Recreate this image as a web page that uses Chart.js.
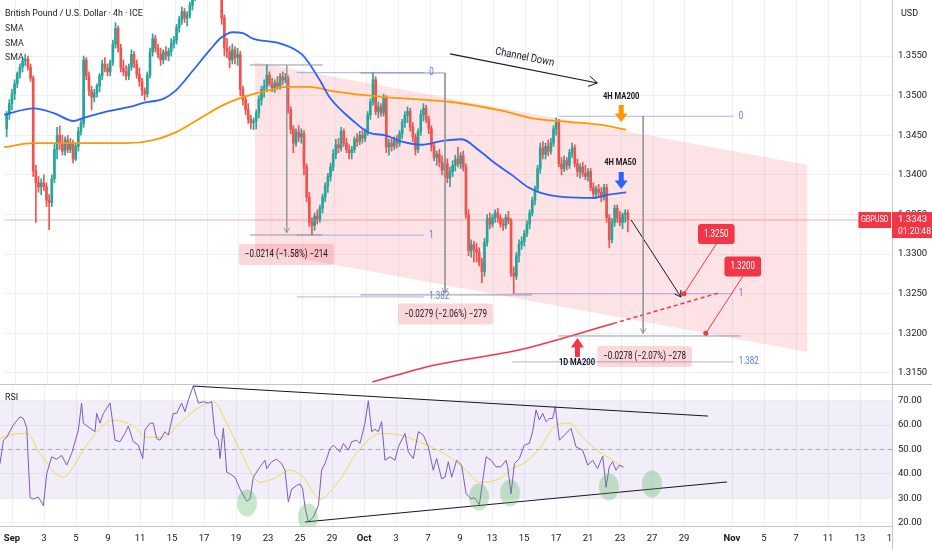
<!DOCTYPE html>
<html lang="en">
<head>
<meta charset="UTF-8">
<title>GBPUSD 4h - Channel Down</title>
<script src="https://cdn.jsdelivr.net/npm/chart.js"></script>
<style>
  body { margin: 0; background: #fff; }
  .wrap { position: relative; width: 932px; height: 550px; overflow: hidden; }
  .pane { position: absolute; left: 0; width: 932px; }
</style>
</head>
<body>
<div class="wrap">
  <div class="pane" style="top:0;height:384px"><canvas id="price"></canvas></div>
  <div class="pane" style="top:384px;height:166px"><canvas id="rsi"></canvas></div>
</div>
<script>
// ---- time axis (trading days, Sep 1 = 0, 6 candles of 4h per day) ----
const tickDays = [0,2,4,6,8,10,12,14,16,18,20,22,24,26,28,30,32,34,36,38,40,42,45,47,49,51,53,55];
const tickLabels = ['Sep','3','5','9','11','15','17','19','23','25','29','Oct','3','7','9','13','15','17','21','23','27','29','Nov','5','7','11','13','17'];
const monthLabels = ['Sep','Oct','Nov'];
const firstSlot = -4;      // first candle: Aug 29, 08:00
const slotsPerDay = 6;

// ---- candles ----
const opens = [
  1.3458,1.3476,1.3490,1.3502,
  1.3515,1.3528,1.3536,1.3544,1.3546,1.3536,
  1.3522,1.3405,1.3390,1.3385,1.3390,1.3385,
  1.3368,1.3365,1.3395,1.3432,1.3450,1.3440,
  1.3430,1.3444,1.3432,1.3440,1.3420,1.3436,
  1.3455,1.3465,1.3545,1.3525,1.3506,1.3498,
  1.3503,1.3512,1.3525,1.3540,1.3535,1.3530,
  1.3542,1.3565,1.3585,1.3560,1.3535,1.3530,
  1.3525,1.3536,1.3552,1.3540,1.3527,1.3518,
  1.3506,1.3502,1.3526,1.3555,1.3572,1.3560,
  1.3552,1.3545,1.3555,1.3550,1.3556,1.3566,
  1.3570,1.3586,1.3596,1.3606,1.3598,1.3602,
  1.3614,1.3625,1.3640,1.3655,1.3675,1.3665,
  1.3670,1.3682,1.3695,1.3690,1.3700,1.3650,
  1.3598,1.3560,1.3555,1.3545,1.3558,1.3548,
  1.3552,1.3508,1.3495,1.3482,1.3470,1.3466,
  1.3468,1.3478,1.3495,1.3508,1.3512,1.3526,
  1.3515,1.3510,1.3516,1.3512,1.3524,1.3520,
  1.3522,1.3482,1.3458,1.3440,1.3454,1.3448,
  1.3452,1.3410,1.3372,1.3340,1.3336,1.3348,
  1.3344,1.3358,1.3372,1.3386,1.3398,1.3410,
  1.3426,1.3438,1.3434,1.3455,1.3440,1.3432,
  1.3428,1.3432,1.3445,1.3442,1.3450,1.3446,
  1.3454,1.3476,1.3492,1.3520,1.3480,1.3486,
  1.3478,1.3497,1.3435,1.3440,1.3436,1.3444,
  1.3440,1.3452,1.3466,1.3475,1.3480,1.3460,
  1.3448,1.3432,1.3455,1.3476,1.3484,1.3470,
  1.3458,1.3436,1.3422,1.3426,1.3416,1.3406,
  1.3414,1.3396,1.3404,1.3412,1.3420,1.3414,
  1.3424,1.3410,1.3350,1.3304,1.3312,1.3306,
  1.3302,1.3290,1.3278,1.3315,1.3345,1.3338,
  1.3346,1.3352,1.3346,1.3338,1.3336,1.3346,
  1.3342,1.3276,1.3272,1.3298,1.3312,1.3316,
  1.3326,1.3338,1.3352,1.3368,1.3382,1.3408,
  1.3434,1.3426,1.3436,1.3430,1.3440,1.3458,
  1.3466,1.3414,1.3408,1.3418,1.3412,1.3428,
  1.3434,1.3414,1.3404,1.3410,1.3402,1.3398,
  1.3404,1.3384,1.3376,1.3382,1.3378,1.3372,
  1.3384,1.3346,1.3318,1.3340,1.3358,1.3346,
  1.3340,1.3350,1.3352
];
const highs = [
  1.3480,1.3495,1.3508,1.3520,
  1.3530,1.3540,1.3548,1.3552,1.3550,1.3540,
  1.3525,1.3412,1.3398,1.3395,1.3400,1.3390,
  1.3375,1.3400,1.3440,1.3460,1.3462,1.3450,
  1.3448,1.3450,1.3446,1.3444,1.3440,1.3460,
  1.3470,1.3550,1.3548,1.3530,1.3512,1.3508,
  1.3515,1.3528,1.3545,1.3548,1.3540,1.3545,
  1.3570,1.3592,1.3588,1.3565,1.3545,1.3538,
  1.3540,1.3558,1.3556,1.3545,1.3535,1.3522,
  1.3510,1.3530,1.3560,1.3578,1.3576,1.3565,
  1.3560,1.3558,1.3562,1.3560,1.3572,1.3575,
  1.3590,1.3600,1.3612,1.3610,1.3606,1.3618,
  1.3630,1.3645,1.3660,1.3680,1.3685,1.3678,
  1.3688,1.3700,1.3705,1.3726,1.3715,1.3655,
  1.3602,1.3572,1.3562,1.3565,1.3562,1.3560,
  1.3556,1.3512,1.3500,1.3490,1.3475,1.3472,
  1.3482,1.3500,1.3512,1.3520,1.3539,1.3530,
  1.3522,1.3520,1.3524,1.3528,1.3530,1.3528,
  1.3525,1.3486,1.3462,1.3458,1.3462,1.3458,
  1.3456,1.3414,1.3378,1.3346,1.3352,1.3356,
  1.3362,1.3376,1.3390,1.3402,1.3415,1.3432,
  1.3445,1.3446,1.3460,1.3458,1.3446,1.3438,
  1.3436,1.3448,1.3452,1.3455,1.3456,1.3458,
  1.3480,1.3496,1.3529,1.3524,1.3492,1.3490,
  1.3502,1.3500,1.3445,1.3446,1.3448,1.3450,
  1.3456,1.3470,1.3480,1.3486,1.3484,1.3466,
  1.3452,1.3458,1.3482,1.3490,1.3488,1.3474,
  1.3462,1.3440,1.3430,1.3432,1.3424,1.3420,
  1.3420,1.3410,1.3418,1.3425,1.3435,1.3428,
  1.3430,1.3414,1.3356,1.3318,1.3316,1.3314,
  1.3308,1.3295,1.3320,1.3350,1.3352,1.3350,
  1.3356,1.3358,1.3350,1.3345,1.3350,1.3354,
  1.3345,1.3284,1.3302,1.3318,1.3322,1.3330,
  1.3342,1.3356,1.3372,1.3386,1.3412,1.3440,
  1.3442,1.3440,1.3444,1.3446,1.3462,1.3472,
  1.3470,1.3422,1.3424,1.3422,1.3432,1.3440,
  1.3438,1.3420,1.3414,1.3416,1.3412,1.3408,
  1.3408,1.3390,1.3386,1.3388,1.3384,1.3388,
  1.3388,1.3350,1.3345,1.3362,1.3362,1.3354,
  1.3352,1.3356,1.3356
];
const lows = [
  1.3448,1.3470,1.3482,1.3495,
  1.3510,1.3522,1.3530,1.3538,1.3532,1.3518,
  1.3398,1.3340,1.3378,1.3375,1.3380,1.3360,
  1.3331,1.3360,1.3390,1.3420,1.3432,1.3425,
  1.3425,1.3428,1.3428,1.3415,1.3418,1.3430,
  1.3450,1.3460,1.3520,1.3500,1.3482,1.3492,
  1.3498,1.3505,1.3520,1.3530,1.3525,1.3525,
  1.3538,1.3560,1.3555,1.3530,1.3525,1.3520,
  1.3520,1.3532,1.3535,1.3522,1.3512,1.3500,
  1.3494,1.3498,1.3522,1.3550,1.3555,1.3548,
  1.3538,1.3540,1.3545,1.3544,1.3550,1.3560,
  1.3565,1.3580,1.3590,1.3592,1.3588,1.3598,
  1.3608,1.3620,1.3632,1.3650,1.3660,1.3658,
  1.3662,1.3675,1.3685,1.3680,1.3640,1.3590,
  1.3550,1.3548,1.3535,1.3540,1.3540,1.3538,
  1.3500,1.3488,1.3476,1.3465,1.3458,1.3457,
  1.3458,1.3472,1.3488,1.3498,1.3505,1.3512,
  1.3505,1.3504,1.3508,1.3508,1.3514,1.3516,
  1.3478,1.3452,1.3428,1.3436,1.3442,1.3440,
  1.3400,1.3366,1.3335,1.3324,1.3330,1.3338,
  1.3340,1.3352,1.3366,1.3378,1.3392,1.3405,
  1.3420,1.3428,1.3430,1.3436,1.3428,1.3420,
  1.3420,1.3428,1.3436,1.3438,1.3440,1.3442,
  1.3450,1.3470,1.3488,1.3476,1.3472,1.3474,
  1.3474,1.3428,1.3425,1.3430,1.3432,1.3434,
  1.3436,1.3446,1.3460,1.3466,1.3455,1.3442,
  1.3425,1.3428,1.3450,1.3468,1.3466,1.3452,
  1.3430,1.3418,1.3412,1.3410,1.3400,1.3398,
  1.3390,1.3385,1.3398,1.3405,1.3410,1.3408,
  1.3405,1.3345,1.3298,1.3296,1.3290,1.3290,
  1.3285,1.3264,1.3272,1.3310,1.3332,1.3334,
  1.3340,1.3340,1.3334,1.3330,1.3332,1.3338,
  1.3272,1.3251,1.3268,1.3290,1.3306,1.3310,
  1.3322,1.3332,1.3348,1.3362,1.3378,1.3402,
  1.3420,1.3420,1.3424,1.3426,1.3436,1.3450,
  1.3410,1.3400,1.3404,1.3406,1.3408,1.3422,
  1.3410,1.3398,1.3396,1.3398,1.3394,1.3392,
  1.3380,1.3370,1.3370,1.3372,1.3366,1.3368,
  1.3340,1.3308,1.3314,1.3335,1.3340,1.3336,
  1.3332,1.3340,1.3328
];
const closes = [
  1.3476,1.3490,1.3502,1.3515,
  1.3528,1.3536,1.3544,1.3546,1.3536,1.3522,
  1.3405,1.3390,1.3385,1.3390,1.3385,1.3368,
  1.3365,1.3395,1.3432,1.3450,1.3440,1.3430,
  1.3444,1.3432,1.3440,1.3420,1.3436,1.3455,
  1.3465,1.3545,1.3525,1.3506,1.3498,1.3503,
  1.3512,1.3525,1.3540,1.3535,1.3530,1.3542,
  1.3565,1.3585,1.3560,1.3535,1.3530,1.3525,
  1.3536,1.3552,1.3540,1.3527,1.3518,1.3506,
  1.3502,1.3526,1.3555,1.3572,1.3560,1.3552,
  1.3545,1.3555,1.3550,1.3556,1.3566,1.3570,
  1.3586,1.3596,1.3606,1.3598,1.3602,1.3614,
  1.3625,1.3640,1.3655,1.3675,1.3665,1.3670,
  1.3682,1.3695,1.3690,1.3700,1.3650,1.3598,
  1.3560,1.3555,1.3545,1.3558,1.3548,1.3552,
  1.3508,1.3495,1.3482,1.3470,1.3466,1.3468,
  1.3478,1.3495,1.3508,1.3512,1.3526,1.3515,
  1.3510,1.3516,1.3512,1.3524,1.3520,1.3522,
  1.3482,1.3458,1.3440,1.3454,1.3448,1.3452,
  1.3410,1.3372,1.3340,1.3336,1.3348,1.3344,
  1.3358,1.3372,1.3386,1.3398,1.3410,1.3426,
  1.3438,1.3434,1.3455,1.3440,1.3432,1.3428,
  1.3432,1.3445,1.3442,1.3450,1.3446,1.3454,
  1.3476,1.3492,1.3520,1.3480,1.3486,1.3478,
  1.3497,1.3435,1.3440,1.3436,1.3444,1.3440,
  1.3452,1.3466,1.3475,1.3480,1.3460,1.3448,
  1.3432,1.3455,1.3476,1.3484,1.3470,1.3458,
  1.3436,1.3422,1.3426,1.3416,1.3406,1.3414,
  1.3396,1.3404,1.3412,1.3420,1.3414,1.3424,
  1.3410,1.3350,1.3304,1.3312,1.3306,1.3302,
  1.3290,1.3278,1.3315,1.3345,1.3338,1.3346,
  1.3352,1.3346,1.3338,1.3336,1.3346,1.3342,
  1.3276,1.3272,1.3298,1.3312,1.3316,1.3326,
  1.3338,1.3352,1.3368,1.3382,1.3408,1.3434,
  1.3426,1.3436,1.3430,1.3440,1.3458,1.3466,
  1.3414,1.3408,1.3418,1.3412,1.3428,1.3434,
  1.3414,1.3404,1.3410,1.3402,1.3398,1.3404,
  1.3384,1.3376,1.3382,1.3378,1.3372,1.3384,
  1.3346,1.3318,1.3340,1.3358,1.3346,1.3340,
  1.3350,1.3352,1.3343
];
const lastPrice = 1.3343;

// ---- moving averages ----
const ma50Days = [-0.75,1.125,2.375,3.625,4.25,5.5,7.19,8,9.25,10.06,11.125,12.19,12.875,13.625,14.25,14.875,16.56,18,19.06,19.69,21.125,22.19,23.19,24.25,25.5,26.75,28,29.06,30.06,31.125,32.19,33,34.44,36.31,37.19,38.31];
const ma50Vals = [1.3476,1.3484,1.3478,1.3468,1.3472,1.3479,1.3486,1.3491,1.3496,1.3507,1.3532,1.3558,1.3573,1.3580,1.3579,1.3572,1.3566,1.3551,1.3520,1.3498,1.3469,1.3453,1.3450,1.3442,1.3438,1.3443,1.3445,1.3431,1.3415,1.3400,1.3384,1.3377,1.3372,1.3371,1.3375,1.3378];
const ma200Days = [-0.75,1.125,3.44,6.94,8.625,10.06,11.125,12.19,13,14.25,15.94,16.94,18.44,20.06,23.19,27.375,30.5,32.56,34.69,36.75,38.31];
const ma200Vals = [1.3435,1.3440,1.3440,1.3440,1.3444,1.3454,1.3466,1.3479,1.3488,1.3498,1.3507,1.3511,1.3511,1.3505,1.3498,1.3492,1.3481,1.3471,1.3467,1.3463,1.3457];
const ma1dDays = [22.375,26.31,31.56,37.5];
const ma1dVals = [1.31387,1.31601,1.31790,1.32125];
const ma1dProjDays = [37.5,44.125];
const ma1dProjVals = [1.32125,1.32510];

// ---- drawings ----
const channelDays = [15, 49.7];
const channelTop = [1.35425, 1.34125];
const channelBottom = [1.33052, 1.31766];

const fibADays = [17.63, 25.63];
const fibALevels = [1.3529, 1.3324, 1.3246];
const fibBStart = [34.06, 31.13, 31.13];
const fibBEnd = 45.06;
const fibBLevels = [1.3474, 1.3250, 1.3164];
const fibNames = ['0', '1', '1.382'];

const rangeDays = [17, 26.94, 39.38];
const rangeTop = [1.35387, 1.35286, 1.34743];
const rangeBottom = [1.3327, 1.3251, 1.3200];
const rangeText = ['\u22120.0214 (\u22121.58%) \u2212214', '\u22120.0279 (\u22122.06%) \u2212279', '\u22120.0278 (\u22122.07%) \u2212278'];
const rangeBoxDays = [16.97, 26.97, 39.47];
const rangeBoxPrice = [1.32996, 1.32245, 1.31709];

const channelArrowDays = [27.25, 36.5];
const channelArrowVals = [1.35526, 1.35160];
const projArrowDays = [38.625, 41.75];
const projArrowVals = [1.33431, 1.32459];

const targetDays = [41.94, 43.31];
const targetVals = [1.3250, 1.3200];
const targetBoxDays = [43.97, 45.63];
const targetBoxVals = [1.33254, 1.32844];
const targetLabels = ['1.3250', '1.3200'];

// ---- RSI ----
const rsiDays = [-0.75,-0.54,-0.33,0.08,0.5,0.71,0.92,1.13,1.33,1.65,1.96,2.17,2.48,2.79,3.1,3.42,3.73,4.15,4.35,4.46,4.88,5.19,5.29,5.5,5.71,6.13,6.44,6.75,7.06,7.27,7.58,7.9,8.17,8.31,8.63,8.83,9.04,9.25,9.56,9.77,10.08,10.29,10.6,10.81,11.02,11.33,11.65,11.96,12.27,12.48,12.69,12.9,13,13.21,13.42,13.63,13.94,14.25,14.67,14.88,15.08,15.5,15.81,15.92,16.23,16.54,16.85,17.06,17.27,17.48,17.79,18,18.17,18.31,18.52,18.83,19.15,19.35,19.56,19.88,20.08,20.29,20.5,20.71,21.02,21.23,21.54,21.75,22.06,22.27,22.48,22.69,22.9,23.1,23.31,23.63,23.94,24.15,24.56,24.77,25.08,25.4,25.71,26.02,26.33,26.54,26.85,27.06,27.27,27.48,27.79,28.1,28.38,28.69,28.9,29.21,29.42,29.63,29.94,30.25,30.56,30.88,30.98,31.19,31.4,31.71,32.02,32.33,32.54,32.75,32.96,33.17,33.38,33.58,33.79,33.96,34.21,34.52,34.94,35.25,35.67,35.98,36.29,36.6,36.92,37.13,37.33,37.54,37.75,37.96,38.21];
const rsiVals = [44.2,53.8,55,60,63.4,62.7,59,30.3,29.7,30.5,27,40,47,46,47.6,43.6,48.4,58,69,60.8,58.7,57.3,64.8,60.8,64.8,69,53.8,53.2,56.6,59.6,53.2,51.8,46.3,58,60.8,60.8,54.5,53.8,57.3,55.9,64.8,64.8,69,65.5,70.3,76,69,69.6,69,69.6,55.9,53.8,46.3,58.7,40.7,40,38.6,33.8,28.8,29.7,38.6,42.9,45.6,42.2,45,46,44.2,41.5,28.5,33.8,35.2,35.9,33.8,26.5,20.3,22.3,27.1,41.5,44.2,50.4,51.8,50.4,49,52.5,49.7,53.2,53.8,52.5,60.8,70,57.3,58.3,57.3,61.4,45.6,47,45.6,51.1,56.6,49,46.3,57.3,55.9,51.1,41.5,46.3,38,38.6,45,38.6,45.6,43.6,32,29.7,30.3,27.4,37.3,47,45.6,42.9,42.9,45.6,42.9,31.8,44.2,46.3,51.8,52.5,57.3,66.2,62.1,64.8,61.4,62.7,62.7,67.5,53.8,55.9,58.7,51.1,49.7,43.6,45.6,42.2,47.3,34.5,42.9,45,41.5,43.6,42.9];
const rsiMaDays = [-0.75,-0.13,0.92,1.75,3.21,3.83,4.67,6.33,7.58,8.42,9.46,10.5,11.75,12.58,13.42,14.25,15.5,16.33,17.38,18.21,19.25,20.29,21.75,23.1,24.25,25.92,27.17,28.38,29.21,30.46,31.29,32.13,32.96,34,34.83,35.67,36.71,37.54,38.27];
const rsiMaVals = [54.5,55.9,56.6,48.4,38.6,42.9,51.8,62,59.6,55,55,60.8,67.5,69.6,60.8,49.7,36.6,38,41.5,38.6,29.7,35.9,50.4,56.6,55.9,51.8,47.7,41.5,36.6,38,42.2,45,50.4,60,60.8,55,49,45.6,42.2];
const rsiUpperDays = [11.31, 43.5];
const rsiUpperVals = [76.0, 63.7];
const rsiLowerDays = [18.31, 44.69];
const rsiLowerVals = [20.3, 36.7];
const rsiBottomDays = [14.69, 18.5, 29.19, 31.13, 37.31, 40];
const rsiBottomVals = [28.1, 22.3, 30.5, 32.2, 34.6, 35.9];

const priceTicks = [1.3150,1.3200,1.3250,1.3300,1.3350,1.3400,1.3450,1.3500,1.3550];
const rsiTicks = [20,30,40,50,60,70];

// ---- styles ----
const FONT = "Roboto, 'Noto Sans', sans-serif";
const TXT = '#131722';
const GRID = '#eef0f4';
const AXIS = '#c3c6ce';
const UP = '#26a69a', DOWN = '#ef5350';
const FIB = 'rgba(92,124,230,0.55)', FIB_TXT = '#5d7ce0';
const GRAY = '#9598a1';
const X_MIN = -0.75, X_MAX = 55;
const NARROW = 0.8;        // the source text is horizontally condensed

const pts = (xs, ys) => xs.map((v, i) => ({ x: v, y: ys[i] }));
const seg = (xs, ys, color, width, dash) => ({
  type: 'line', data: pts(xs, ys), borderColor: color, borderWidth: width || 1,
  borderDash: dash || [], pointRadius: 0, fill: false, tension: 0, order: 3
});
const candleX = i => (firstSlot + i + 0.5) / slotsPerDay;
const candleColor = opens.map((o, i) => closes[i] >= o ? UP : DOWN);

function xAxis(showLabels) {
  return {
    type: 'linear', min: X_MIN, max: X_MAX, offset: false,
    grid: { color: GRID, drawTicks: false, offset: false },
    border: { display: showLabels, color: AXIS },
    ticks: {
      display: showLabels, autoSkip: false, maxRotation: 0, padding: 7, color: TXT,
      font: c => ({ family: FONT, size: 9.5, weight: (c.tick && monthLabels.includes(c.tick.label)) ? 'bold' : 'normal' }),
      callback: (v, i) => tickLabels[i]
    },
    afterBuildTicks: s => { s.ticks = tickDays.map(v => ({ value: v })); },
    afterFit: s => { s.height = showLabels ? 24 : 0; s.paddingLeft = 0; s.paddingRight = 0; }
  };
}
function yAxis(min, max, ticks, digits) {
  return {
    position: 'right', min: min, max: max,
    grid: { color: GRID, drawTicks: false },
    border: { display: true, color: AXIS },
    ticks: { autoSkip: false, padding: 6, color: TXT, font: { family: FONT, size: 9.5 }, callback: v => v.toFixed(digits) },
    afterBuildTicks: s => { s.ticks = ticks.map(v => ({ value: v })); },
    afterFit: s => { s.width = 40; s.paddingTop = 0; s.paddingBottom = 0; }
  };
}

// keep the plot area flush with the pane edges
const pinArea = axisHeight => ({
  id: 'pinArea',
  afterLayout(chart) {
    const a = chart.chartArea, { x, y } = chart.scales;
    const b = chart.height - axisHeight;
    a.top = 0; a.bottom = b; a.height = b;
    y.top = 0; y.bottom = b; y.height = b; y.configure();
    x.top = b; x.bottom = chart.height; x.height = axisHeight;
  }
});

function chevron(ctx, x0, y0, x1, y1, len, color) {
  const a = Math.atan2(y1 - y0, x1 - x0);
  ctx.strokeStyle = color; ctx.lineWidth = 1;
  ctx.beginPath();
  ctx.moveTo(x1 - len * Math.cos(a - 0.55), y1 - len * Math.sin(a - 0.55));
  ctx.lineTo(x1, y1);
  ctx.lineTo(x1 - len * Math.cos(a + 0.55), y1 - len * Math.sin(a + 0.55));
  ctx.stroke();
}
function blockArrow(ctx, x, yBase, yTip, color) {
  const dir = Math.sign(yTip - yBase), neck = yTip - dir * Math.abs(yTip - yBase) * 0.5;
  ctx.fillStyle = color;
  ctx.beginPath();
  ctx.moveTo(x - 2.5, yBase); ctx.lineTo(x + 2.5, yBase); ctx.lineTo(x + 2.5, neck);
  ctx.lineTo(x + 6.5, neck); ctx.lineTo(x, yTip); ctx.lineTo(x - 6.5, neck);
  ctx.lineTo(x - 2.5, neck); ctx.closePath(); ctx.fill();
}
function label(ctx, text, x, y, font, color, align, sx) {
  ctx.save();
  ctx.font = font; ctx.fillStyle = color; ctx.textAlign = align || 'center'; ctx.textBaseline = 'middle';
  ctx.translate(x, y); ctx.scale(sx || 1, 1);
  ctx.fillText(text, 0, 0);
  ctx.restore();
}
function box(ctx, text, x, y, fill, color, h) {
  const font = '10px ' + FONT;
  ctx.font = font;
  const w = ctx.measureText(text).width * NARROW + 12;
  ctx.fillStyle = fill;
  ctx.beginPath(); ctx.roundRect(x - w / 2, y - h / 2, w, h, 3); ctx.fill();
  label(ctx, text, x, y + 0.5, font, color, 'center', NARROW);
}

const priceDrawings = {
  id: 'priceDrawings',
  afterDatasetsDraw(chart) {
    const { ctx, chartArea: a, scales: { x, y } } = chart;
    const X = d => x.getPixelForValue(d), Y = p => y.getPixelForValue(p);
    ctx.save();
    ctx.beginPath(); ctx.rect(a.left, a.top, a.right - a.left, a.bottom - a.top); ctx.clip();

    // price range tools
    rangeDays.forEach((d, i) => {
      chevron(ctx, X(d), Y(rangeTop[i]), X(d), Y(rangeBottom[i]), 6, GRAY);
      box(ctx, rangeText[i], X(rangeBoxDays[i]), Y(rangeBoxPrice[i]), 'rgba(242,54,69,0.2)', TXT, 21);
    });
    // fib labels
    fibALevels.forEach((p, i) => label(ctx, fibNames[i], X(fibADays[1]) + 5, Y(p), '10px ' + FONT, FIB_TXT, 'left', NARROW));
    fibBLevels.forEach((p, i) => label(ctx, fibNames[i], X(fibBEnd) + 5, Y(p), '10px ' + FONT, FIB_TXT, 'left', NARROW));

    // channel down arrow + text
    const cx0 = X(channelArrowDays[0]), cy0 = Y(channelArrowVals[0]);
    const cx1 = X(channelArrowDays[1]), cy1 = Y(channelArrowVals[1]);
    chevron(ctx, cx0, cy0, cx1, cy1, 10, TXT);
    ctx.save();
    ctx.translate(X(31.94), Y(1.35482));
    ctx.rotate(Math.atan2(cy1 - cy0, cx1 - cx0));
    label(ctx, 'Channel Down', 0, 0, '11px ' + FONT, TXT, 'center', 0.85);
    ctx.restore();

    // projection arrow
    chevron(ctx, X(projArrowDays[0]), Y(projArrowVals[0]), X(projArrowDays[1]), Y(projArrowVals[1]), 7, TXT);

    // MA callouts
    blockArrow(ctx, X(38), Y(1.34882), Y(1.34668), '#ff9800');
    label(ctx, '4H MA200', X(38), Y(1.34989), 'bold 9.5px ' + FONT, TXT, 'center', NARROW);
    blockArrow(ctx, X(38), Y(1.34037), Y(1.33822), '#2962ff');
    label(ctx, '4H MA50', X(37.94), Y(1.34150), 'bold 9.5px ' + FONT, TXT, 'center', NARROW);
    blockArrow(ctx, X(35.25), Y(1.31702), Y(1.31942), '#f23645');
    label(ctx, '1D MA200', X(35.22), Y(1.31627), 'bold 9.5px ' + FONT, TXT, 'center', NARROW);

    // targets
    targetBoxDays.forEach((d, i) => box(ctx, targetLabels[i], X(d), Y(targetBoxVals[i]), '#f23645', '#ffffff', 20));
    ctx.restore();
  },
  afterDraw(chart) {
    const { ctx, chartArea: a, scales: { y }, width } = chart;
    const py = y.getPixelForValue(lastPrice);
    // legend
    label(ctx, 'British Pound / U.S. Dollar \u00b7 4h \u00b7 ICE', 5, 14, '9.5px ' + FONT, TXT, 'left', 0.93);
    ['SMA', 'SMA', 'SMA'].forEach((t, i) => label(ctx, t, 5, 29 + i * 14.3, '9.5px ' + FONT, '#2a2e39', 'left', 0.93));
    label(ctx, 'USD', a.right + 9, 14, '9px ' + FONT, TXT, 'left');
    // last price labels
    ctx.font = '9px ' + FONT;
    const w = ctx.measureText('GBPUSD').width * NARROW + 5;
    ctx.fillStyle = '#f23645';
    ctx.fillRect(a.right - w - 1, py - 8, w, 16);
    label(ctx, 'GBPUSD', a.right - w / 2 - 1, py, '9px ' + FONT, '#fff', 'center', NARROW);
    ctx.fillStyle = '#f23645';
    ctx.fillRect(a.right, py - 8, width - a.right, 26);
    label(ctx, lastPrice.toFixed(4), a.right + 6, py, '9.5px ' + FONT, '#fff', 'left');
    label(ctx, '01:20:48', a.right + 6, py + 12, '9.5px ' + FONT, '#fff', 'left', 0.9);
  }
};

const rsiDrawings = {
  id: 'rsiDrawings',
  afterDatasetsDraw(chart) {
    const { ctx, chartArea: a, scales: { x, y } } = chart;
    ctx.save();
    ctx.beginPath(); ctx.rect(a.left, a.top, a.right - a.left, a.bottom - a.top); ctx.clip();
    ctx.fillStyle = 'rgba(76,175,80,0.3)';
    rsiBottomDays.forEach((d, i) => {
      ctx.beginPath();
      ctx.ellipse(x.getPixelForValue(d), y.getPixelForValue(rsiBottomVals[i]), 10, 13.5, 0, 0, Math.PI * 2);
      ctx.fill();
    });
    ctx.restore();
  },
  afterDraw(chart) {
    const { ctx, chartArea: a, width, height } = chart;
    ctx.save();
    ctx.fillStyle = '#fff';
    ctx.fillRect(a.right + 1, a.bottom + 1, width - a.right, height - a.bottom);
    ctx.strokeStyle = AXIS; ctx.lineWidth = 1;
    ctx.beginPath();
    ctx.moveTo(a.right + 0.5, a.bottom); ctx.lineTo(a.right + 0.5, height);
    ctx.moveTo(0, 0.5); ctx.lineTo(width, 0.5);
    ctx.stroke();
    ctx.restore();
    label(ctx, 'RSI', 5, 14, '9.5px ' + FONT, TXT, 'left', 0.93);
  }
};

const common = {
  responsive: true, maintainAspectRatio: false, animation: false, events: [],
  layout: { padding: 0 },
  plugins: { legend: { display: false }, tooltip: { enabled: false } }
};

new Chart(document.getElementById('price'), {
  type: 'line',
  data: {
    datasets: [
      { data: pts(channelDays, channelBottom), borderWidth: 0, pointRadius: 0, fill: false, order: 20 },
      { data: pts(channelDays, channelTop), borderWidth: 0, pointRadius: 0, fill: '-1', backgroundColor: 'rgba(242,54,69,0.14)', order: 20 },
      Object.assign(seg([X_MIN, X_MAX], [lastPrice, lastPrice], 'rgba(239,83,80,0.45)', 1), { order: 15 }),
      { type: 'bar', data: closes.map((c, i) => ({ x: candleX(i), y: [lows[i], highs[i]] })),
        backgroundColor: candleColor, barThickness: 1, grouped: false, order: 10 },
      { type: 'bar', data: closes.map((c, i) => ({ x: candleX(i), y: [opens[i], c] })),
        backgroundColor: candleColor, barThickness: 2, minBarLength: 1, grouped: false, order: 9 },
      { data: pts(ma200Days, ma200Vals), borderColor: '#ff9800', borderWidth: 1.8, pointRadius: 0, cubicInterpolationMode: 'monotone', fill: false, order: 8 },
      { data: pts(ma50Days, ma50Vals), borderColor: '#2962ff', borderWidth: 1.8, pointRadius: 0, cubicInterpolationMode: 'monotone', fill: false, order: 7 },
      ...fibALevels.map(p => seg(fibADays, [p, p], FIB)),
      ...fibBLevels.map((p, i) => seg([fibBStart[i], fibBEnd], [p, p], FIB)),
      seg([14.69, 19.25], [rangeTop[0], rangeTop[0]], GRAY),
      seg([14.69, 19.25], [1.33242, 1.33242], GRAY),
      seg([21.63, 26.94], [rangeTop[1], rangeTop[1]], GRAY),
      seg([21.63, 32.38], [1.32485, 1.32485], GRAY),
      seg([34.06, 45.5], [1.31967, 1.31967], GRAY),
      ...rangeDays.map((d, i) => seg([d, d], [rangeTop[i], rangeBottom[i]], GRAY)),
      { data: pts(ma1dDays, ma1dVals), borderColor: '#f23645', borderWidth: 1.5, pointRadius: 0, cubicInterpolationMode: 'monotone', fill: false, order: 3 },
      seg(ma1dProjDays, ma1dProjVals, '#f23645', 1.5, [4, 3]),
      seg(channelArrowDays, channelArrowVals, TXT, 1.2),
      seg(projArrowDays, projArrowVals, TXT, 1),
      seg([targetDays[0], targetBoxDays[0]], [targetVals[0], targetBoxVals[0] - 0.00125], '#f23645', 1),
      seg([targetDays[1], targetBoxDays[1]], [targetVals[1], targetBoxVals[1] - 0.00125], '#f23645', 1),
      { type: 'scatter', data: pts(targetDays, targetVals), pointRadius: 2.5, pointBackgroundColor: '#f23645', pointBorderWidth: 0, order: 1 }
    ]
  },
  options: Object.assign({}, common, { scales: { x: xAxis(false), y: yAxis(1.31361, 1.36207, priceTicks, 4) } }),
  plugins: [pinArea(0), priceDrawings]
});

new Chart(document.getElementById('rsi'), {
  type: 'line',
  data: {
    datasets: [
      { data: pts([X_MIN, X_MAX], [70, 70]), borderWidth: 0, pointRadius: 0, fill: false, order: 20 },
      { data: pts([X_MIN, X_MAX], [30, 30]), borderWidth: 0, pointRadius: 0, fill: '-1', backgroundColor: 'rgba(126,87,194,0.1)', order: 20 },
      Object.assign(seg([X_MIN, X_MAX], [50, 50], 'rgba(120,123,134,0.55)', 1, [4, 4]), { order: 15 }),
      { data: pts(rsiMaDays, rsiMaVals), borderColor: '#f2d64b', borderWidth: 1, pointRadius: 0, cubicInterpolationMode: 'monotone', fill: false, order: 6 },
      { data: pts(rsiDays, rsiVals), borderColor: '#7e57c2', borderWidth: 1, pointRadius: 0, tension: 0, fill: false, order: 5 },
      seg(rsiUpperDays, rsiUpperVals, TXT, 1),
      seg(rsiLowerDays, rsiLowerVals, TXT, 1)
    ]
  },
  options: Object.assign({}, common, { scales: { x: xAxis(true), y: yAxis(18.65, 76.84, rsiTicks, 2) } }),
  plugins: [pinArea(24), rsiDrawings]
});
</script>
</body>
</html>
